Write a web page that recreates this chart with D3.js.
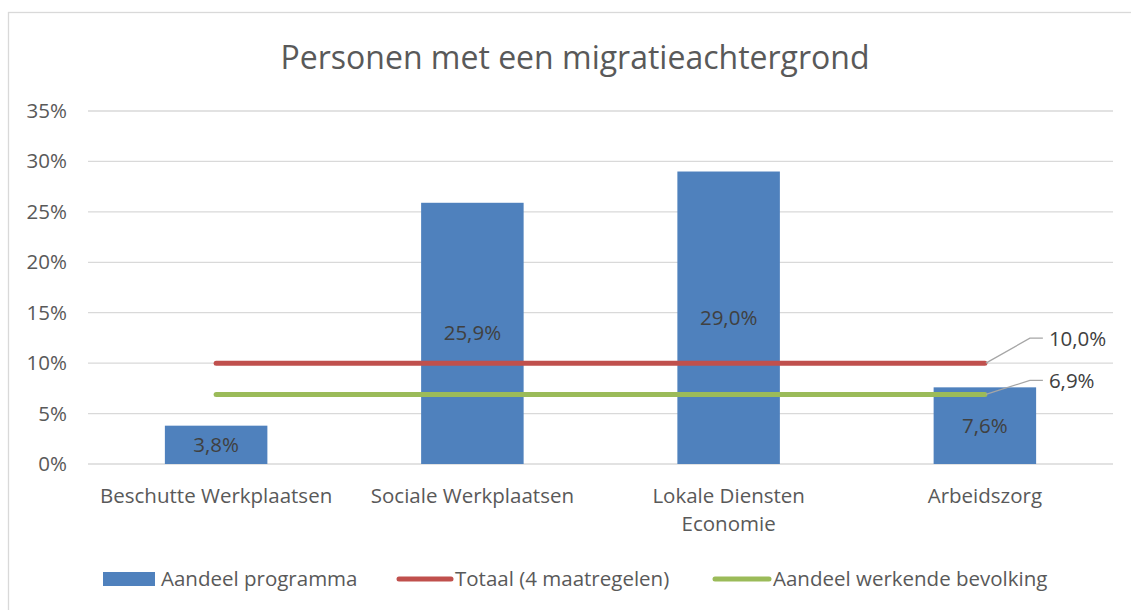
<!DOCTYPE html>
<html lang="nl">
<head>
<meta charset="UTF-8">
<title>Personen met een migratieachtergrond</title>
<style>
    html, body { margin: 0; padding: 0; background: #fff; }
    svg { display: block; font-family: "Open Sans", "Noto Sans", sans-serif; }
    .grid line { stroke: #d9d9d9; stroke-width: 1.3px; }
    .tick-label { font-size: 20.5px; fill: #595959; }
    .bar-label { font-size: 20.5px; fill: #404040; }
</style>
</head>
<body>
<svg width="1131" height="610"></svg>
<script src="https://d3js.org/d3.v7.min.js"></script>
<script>
    // data
    const categories = [["Beschutte Werkplaatsen"], ["Sociale Werkplaatsen"], ["Lokale Diensten", "Economie"], ["Arbeidszorg"]];
    const programma = [3.8, 25.9, 29.0, 7.6];
    const totaal = [10.0, 10.0, 10.0, 10.0];
    const werkend = [6.9, 6.9, 6.9, 6.9];
    const yTicks = [0, 5, 10, 15, 20, 25, 30, 35];
    const legendNames = ["Aandeel programma", "Totaal (4 maatregelen)", "Aandeel werkende bevolking"];

    const blue = "#4f81bd", red = "#c0504d", green = "#9bbb59";
    const fmt = v => d3.format(".1f")(v).replace(".", ",") + "%";

    const svg = d3.select("svg");

    // chart border
    svg.append("rect")
        .attr("x", 8.5).attr("y", 12.5)
        .attr("width", 1140).attr("height", 620)
        .attr("fill", "none").attr("stroke", "#d9d9d9").attr("stroke-width", 1.3);

    svg.append("text")
        .attr("x", 575).attr("y", 69)
        .attr("text-anchor", "middle")
        .style("font-size", "32px").style("fill", "#595959")
        .text("Personen met een migratieachtergrond");

    const x = d3.scaleBand().domain(d3.range(categories.length)).range([88, 1113]);
    const y = d3.scaleLinear().domain([0, 35]).range([464, 111]);

    // grid
    svg.append("g").attr("class", "grid")
        .selectAll("line").data(yTicks).enter().append("line")
        .attr("x1", 88).attr("x2", 1113)
        .attr("y1", d => y(d)).attr("y2", d => y(d));

    svg.append("g").selectAll("text").data(yTicks).enter().append("text")
        .attr("class", "tick-label")
        .attr("x", 67).attr("y", d => y(d) + 7)
        .attr("text-anchor", "end")
        .text(d => d + "%");

    // bars
    const bw = x.bandwidth() * 0.4;
    const cx = i => x(i) + x.bandwidth() / 2;
    svg.append("g").selectAll("rect").data(programma).enter().append("rect")
        .attr("x", (d, i) => cx(i) - bw / 2)
        .attr("y", d => y(d))
        .attr("width", bw)
        .attr("height", d => y(0) - y(d))
        .attr("fill", blue);

    svg.append("g").selectAll("text").data(programma).enter().append("text")
        .attr("class", "bar-label")
        .attr("x", (d, i) => cx(i))
        .attr("y", d => (y(d) + y(0)) / 2 + 7)
        .attr("text-anchor", "middle")
        .text(d => fmt(d));

    // lines
    const line = d3.line().x((d, i) => cx(i)).y(d => y(d));
    [[totaal, red], [werkend, green]].forEach(([vals, col]) => {
        svg.append("path").datum(vals)
            .attr("d", line)
            .attr("fill", "none").attr("stroke", col)
            .attr("stroke-width", 5).attr("stroke-linecap", "round");
    });

    // leader labels for the last point
    const last = categories.length - 1;
    [[totaal[last], -25], [werkend[last], -14]].forEach(([v, dy]) => {
        const px = cx(last) + 1, py = y(v);
        svg.append("polyline")
            .attr("points", `${px},${py} ${px + 44},${py + dy} ${px + 57},${py + dy}`)
            .attr("fill", "none").attr("stroke", "#a6a6a6").attr("stroke-width", 1.3);
        svg.append("text")
            .attr("class", "bar-label")
            .attr("x", px + 63).attr("y", py + dy + 8)
            .text(fmt(v));
    });

    // category labels
    const cat = svg.append("g").selectAll("text").data(categories).enter().append("text")
        .attr("class", "tick-label")
        .attr("text-anchor", "middle")
        .attr("x", (d, i) => cx(i))
        .attr("y", 503);
    cat.selectAll("tspan").data(d => d).enter().append("tspan")
        .attr("x", function () { return d3.select(this.parentNode).attr("x"); })
        .attr("dy", (d, i) => i === 0 ? 0 : 28)
        .text(d => d);

    // legend
    const lg = svg.append("g").attr("transform", "translate(0,579)");
    lg.append("rect").attr("x", 103).attr("y", -7).attr("width", 52).attr("height", 14).attr("fill", blue);
    lg.append("text").attr("class", "tick-label").attr("x", 161).attr("y", 7).text(legendNames[0]);
    lg.append("line").attr("x1", 399).attr("x2", 451).attr("y1", 0).attr("y2", 0)
        .attr("stroke", red).attr("stroke-width", 5).attr("stroke-linecap", "round");
    lg.append("text").attr("class", "tick-label").attr("x", 455).attr("y", 7).text(legendNames[1]);
    lg.append("line").attr("x1", 715).attr("x2", 769).attr("y1", 0).attr("y2", 0)
        .attr("stroke", green).attr("stroke-width", 5).attr("stroke-linecap", "round");
    lg.append("text").attr("class", "tick-label").attr("x", 773).attr("y", 7).text(legendNames[2]);
</script>
</body>
</html>
